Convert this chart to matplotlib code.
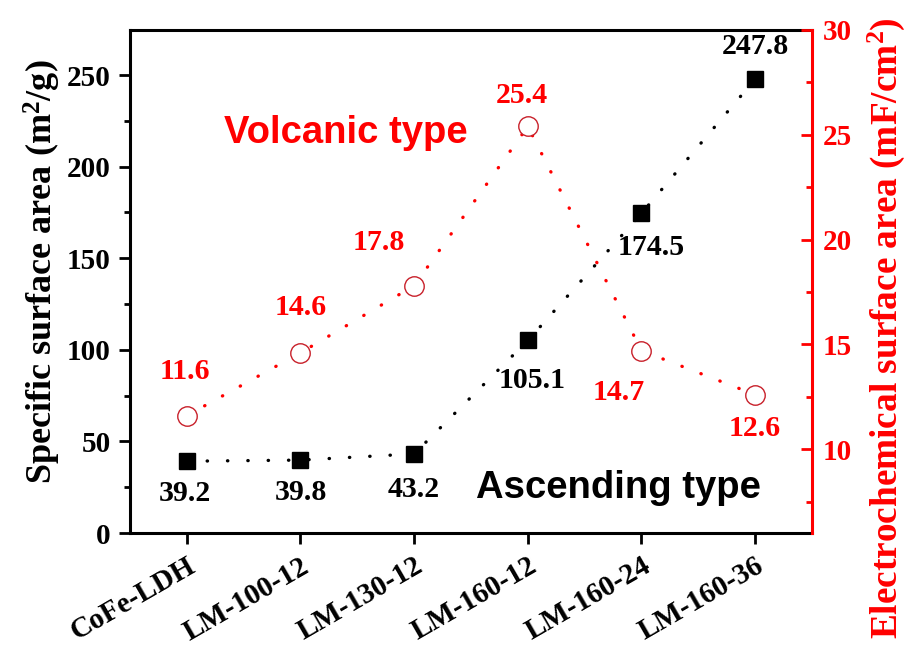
import matplotlib
matplotlib.use("Agg")
import matplotlib.pyplot as plt

# Sample names and measured values
samples = ["CoFe-LDH", "LM-100-12", "LM-130-12", "LM-160-12", "LM-160-24", "LM-160-36"]
bet_area = [39.2, 39.8, 43.2, 105.1, 174.5, 247.8]      # m^2/g
ecsa = [11.6, 14.6, 17.8, 25.4, 14.7, 12.6]             # mF/cm^2

# Label offsets (pixels) from each marker
bet_label_offsets = [(-2, -32), (0, -32), (0, -36), (4, -40), (10, -34), (0, 33)]
ecsa_label_offsets = [(-2, 44), (0, 45), (-35, 43), (-6, 31), (-23, -42), (0, -34)]

RED = "#ff0000"
SERIF = "Liberation Serif"
SANS = "Liberation Sans"

plt.rcParams["font.family"] = SERIF
plt.rcParams["font.weight"] = "bold"
plt.rcParams["mathtext.fontset"] = "custom"
plt.rcParams["mathtext.rm"] = "Liberation Serif:bold"
plt.rcParams["mathtext.bf"] = "Liberation Serif:bold"
plt.rcParams["mathtext.it"] = "Liberation Serif:bold"

W, H = 906, 648
fig = plt.figure(figsize=(W / 100, H / 100), dpi=100)
L, R, T, B = 130, 812, 30, 533
ax = fig.add_axes([L / W, 1 - B / H, (R - L) / W, (B - T) / H])
ax2 = ax.twinx()

x = list(range(len(samples)))

dot_style = dict(linestyle=(0, (0.1, 6.0)), linewidth=2.4, dash_capstyle="round")

ax.plot(x, bet_area, color="black", zorder=2, **dot_style)
ax.plot(x, bet_area, linestyle="none", marker="s", markersize=11.8,
        color="black", zorder=3)

ax2.plot(x, ecsa, color=RED, zorder=2, **dot_style)
ax2.plot(x, ecsa, linestyle="none", marker="o", markersize=14,
         markerfacecolor="white", markeredgecolor="#c8202a",
         markeredgewidth=1.0, zorder=3)

for xi, v, off in zip(x, bet_area, bet_label_offsets):
    ax.annotate(f"{v:.1f}", (xi, v), xytext=off, textcoords="offset pixels",
                ha="center", va="center", fontsize=21.5, fontweight="bold",
                color="black")
for xi, v, off in zip(x, ecsa, ecsa_label_offsets):
    ax2.annotate(f"{v:.1f}", (xi, v), xytext=off, textcoords="offset pixels",
                 ha="center", va="center", fontsize=21.5, fontweight="bold",
                 color=RED)

# Axis limits and ticks
ax.set_xlim(-0.5, 5.5)
ax.set_ylim(0, 274.6)
ax2.set_ylim(6, 30)

ax.set_yticks([0, 50, 100, 150, 200, 250])
ax.set_yticks([25, 75, 125, 175, 225], minor=True)
ax2.set_yticks([10, 15, 20, 25, 30])
ax2.set_yticks([7.5, 12.5, 17.5, 22.5, 27.5], minor=True)
ax.set_xticks(x)
ax.set_xticklabels(samples, rotation=30, ha="right", va="top",
                   rotation_mode="anchor", fontsize=21, fontweight="bold")

ax.tick_params(axis="y", which="major", direction="out", length=8,
               width=2, labelsize=21, pad=6)
ax.tick_params(axis="x", which="major", direction="out", length=8,
               width=2, pad=6)
ax.tick_params(axis="y", which="minor", direction="out", length=4.5, width=2)
ax2.tick_params(axis="y", which="major", direction="in", length=8, width=2,
                labelsize=21, colors=RED, pad=8)
ax2.tick_params(axis="y", which="minor", direction="in", length=4.5,
                width=2, colors=RED)

for lab in ax.get_yticklabels() + ax2.get_yticklabels():
    lab.set_fontweight("bold")

for sp in ["left", "bottom", "top"]:
    ax.spines[sp].set_linewidth(2.2)
ax.spines["right"].set_visible(False)
for sp in ["left", "bottom", "top"]:
    ax2.spines[sp].set_visible(False)
ax2.spines["right"].set_color(RED)
ax2.spines["right"].set_linewidth(2.2)

# Axis titles
fig.text(42 / W, 1 - 272 / H, r"Specific surface area (m$^{2}$/g)",
         rotation=90, ha="center", va="center", fontsize=26,
         fontweight="bold", color="black")
fig.text(886 / W, 1 - 328 / H, r"Electrochemical surface area (mF/cm$^{2}$)",
         rotation=90, ha="center", va="center", fontsize=26.8,
         fontweight="bold", color=RED)

# Trend annotations
ax.text(0.317, 0.775, "Volcanic type", transform=ax.transAxes,
        ha="center", va="baseline", fontsize=27.5, fontweight="bold",
        family=SANS, color=RED)
ax.text(0.7155, 0.0696, "Ascending type", transform=ax.transAxes,
        ha="center", va="baseline", fontsize=27.5, fontweight="bold",
        family=SANS, color="black")

fig.savefig("out.png", dpi=100)
